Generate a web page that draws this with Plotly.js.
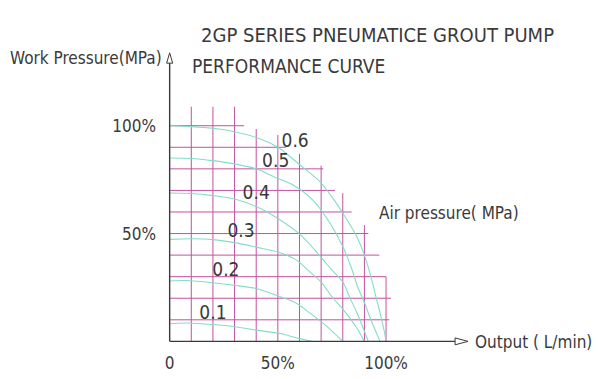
<!DOCTYPE html>
<html>
<head>
<meta charset="utf-8">
<script src="https://cdn.plot.ly/plotly-3.0.1.min.js"></script>
<style>html,body{margin:0;padding:0;background:#fff;}#chart{width:600px;height:379px;}</style>
</head>
<body>
<div id="chart"></div>
<script>
// ---- data (percent of rated output / work pressure) ----
const airPressures = ['0.1', '0.2', '0.3', '0.4', '0.5', '0.6'];
const curve01X = [0, 8, 20, 30, 40, 51.7, 58, 62, 65.7];
const curve01Y = [8.2, 8.5, 7.8, 6.8, 5.2, 3.5, 1.8, 0.9, 0];
const curve02X = [0, 8, 20, 30, 40, 51.7, 58, 65, 72, 80];
const curve02Y = [28, 28.2, 27.2, 26, 24.5, 20.5, 18, 13, 7.5, 0];
const curve03X = [0, 10, 20, 30, 40, 50, 58.5, 65, 70, 75.5, 80, 86, 90];
const curve03Y = [47.3, 47.6, 47.2, 45.8, 43.7, 41.4, 37.8, 32, 27.5, 20, 15, 7, 0];
const curve04X = [0, 10, 20, 30, 40, 50, 60.6, 70, 75, 80, 83.4, 86.4, 89.5, 91.8];
const curve04Y = [68.8, 68.6, 67.6, 66, 62.5, 57, 49.3, 39, 33, 27.5, 20, 13.6, 6, 0];
const curve05X = [0, 10, 20, 30, 40, 50, 57, 66.4, 74, 80, 84, 87, 90, 93, 95.5, 97.2];
const curve05Y = [85, 84.8, 83.8, 82.3, 80, 75.5, 72.5, 65.3, 55, 44, 34, 25, 18, 10, 4, 0];
const curve06X = [0, 10, 20, 30, 40, 50, 60, 69.5, 75, 80, 86, 90, 93, 95.5, 98, 99.3, 100];
const curve06Y = [100, 99.6, 98.8, 97.2, 94.5, 90, 82, 74, 67, 59.5, 49.5, 40, 30, 20, 10, 4, 0];
const curveLabelX = [20, 26, 33, 40, 49, 58];
const curveLabelY = [12.8, 32.5, 50.5, 68.3, 83, 92.3];

// stepped grid: horizontal lines at gridLevels run from 0 to hGridEnds,
// vertical lines at gridLevels run from 0 to vGridTops
const gridLevels = [10, 20, 30, 40, 50, 60, 70, 80, 90, 100];
const hGridEnds = [101.5, 102.3, 100, 96.9, 91.8, 84.1, 76.4, 71, 53.7, 34.4];
const vGridTops = [108.8, 108.8, 108.8, 98.5, 95.7, 86.9, 81.5, 68.7, 53.9, 30];

const xTickVals = [0, 50, 100];
const xTickText = ['0', '50%', '100%'];
const yTickVals = [50, 100];
const yTickText = ['50%', '100%'];

// ---- layout geometry ----
const W = 600, H = 379;
const pxPerX = 2.165, pxPerY = 2.156;
const originX = 169.5, originY = 341.3;   // pixel position of (0, 0)
const xMin = -4, yMin = -4;
const L = originX + xMin * pxPerX, R = 129, T = 52, B = H - originY + yMin * pxPerY;
const pw = W - L - R, ph = H - T - B;
const xMax = xMin + pw / pxPerX, yMax = yMin + ph / pxPerY;
const px2paperX = p => (p - L) / pw;
const px2paperY = p => (H - B - p) / ph;
// axis arrows (in axis units)
const xAxisEnd = 131.9, xArrowTip = 137.9, xArrowHalf = 1.6;
const yAxisEnd = 129, yArrowTip = 133.8, yArrowHalf = 1.4;

const FONT = '"DejaVu Sans Condensed", "Liberation Sans Narrow", sans-serif';
const GRID = '#c2529f';
const CURVE = '#84dcc8';
const INK = '#3a3a3a';
const TXT = '#3a3a3a';

const traces = [];
// grid
const gx = [], gy = [];
gridLevels.forEach((lv, i) => {
  gx.push(0, hGridEnds[i], null); gy.push(lv, lv, null);
  gx.push(lv, lv, null); gy.push(0, vGridTops[i], null);
});
traces.push({x: gx, y: gy, mode: 'lines', line: {color: GRID, width: 1}, hoverinfo: 'skip', showlegend: false});

const curvesX = [curve01X, curve02X, curve03X, curve04X, curve05X, curve06X];
const curvesY = [curve01Y, curve02Y, curve03Y, curve04Y, curve05Y, curve06Y];
curvesX.forEach((cx, i) => {
  traces.push({x: cx, y: curvesY[i], mode: 'lines', name: airPressures[i],
    line: {color: CURVE, width: 1.1, shape: 'spline', smoothing: 0.8}, showlegend: false});
});
traces.push({x: curveLabelX, y: curveLabelY, mode: 'text', text: airPressures,
  textfont: {family: FONT, size: 19, color: TXT}, showlegend: false, cliponaxis: false});

// axes with open arrow heads
traces.push({x: [0, xAxisEnd, null, 0, 0], y: [0, 0, null, 0, yAxisEnd], mode: 'lines',
  line: {color: INK, width: 1.4}, showlegend: false, hoverinfo: 'skip'});
traces.push({x: [xAxisEnd, xArrowTip, xAxisEnd, xAxisEnd, null, -yArrowHalf, 0, yArrowHalf, -yArrowHalf],
  y: [-xArrowHalf, 0, xArrowHalf, -xArrowHalf, null, yAxisEnd, yArrowTip, yAxisEnd, yAxisEnd], mode: 'lines',
  line: {color: INK, width: 1}, showlegend: false, hoverinfo: 'skip'});

const ann = (text, px, py, size, xanchor) => ({
  text: text, xref: 'paper', yref: 'paper', x: px2paperX(px), y: px2paperY(py),
  xanchor: xanchor || 'left', yanchor: 'middle', showarrow: false,
  font: {family: FONT, size: size, color: TXT}
});

const annotations = [
  ann('2GP SERIES PNEUMATICE GROUT PUMP', 199, 35, 20),
  ann('PERFORMANCE CURVE', 190, 66, 19),
  ann('Work Pressure(MPa)', 8, 58, 17),
  ann('Air pressure( MPa)', 377, 213, 17),
  ann('Output ( L/min)', 473, 342, 17)
];

const layout = {
  width: W, height: H,
  margin: {l: L, r: R, t: T, b: B, pad: 0},
  paper_bgcolor: '#fff', plot_bgcolor: '#fff',
  showlegend: false,
  xaxis: {range: [xMin, xMax], showgrid: false, zeroline: false, showline: false,
    tickvals: xTickVals, ticktext: xTickText, ticks: '', ticklabelstandoff: 1,
    tickfont: {family: FONT, size: 17, color: TXT}, fixedrange: true},
  yaxis: {range: [yMin, yMax], showgrid: false, zeroline: false, showline: false,
    tickvals: yTickVals, ticktext: yTickText, ticks: '', ticklabelstandoff: 4,
    tickfont: {family: FONT, size: 17, color: TXT}, fixedrange: true},
  annotations: annotations
};

Plotly.newPlot('chart', traces, layout, {staticPlot: true, displayModeBar: false});
</script>
</body>
</html>
